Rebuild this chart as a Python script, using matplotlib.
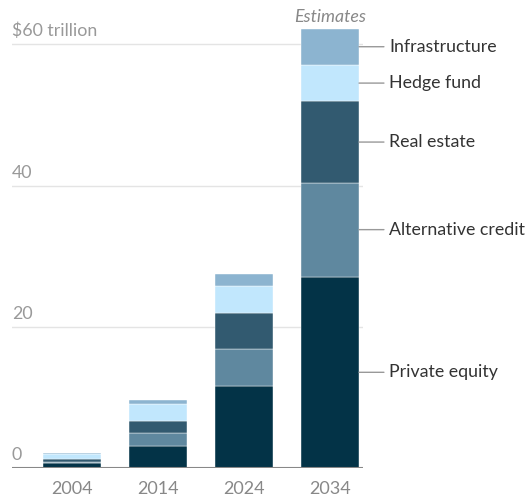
import matplotlib
matplotlib.use("Agg")
import matplotlib.pyplot as plt
import numpy as np

years = ["2004", "2014", "2024", "2034"]
series_names = ["Private equity", "Alternative credit", "Real estate", "Hedge fund", "Infrastructure"]
private_equity = [0.65, 3.15, 11.6, 27.1]
alternative_credit = [0.15, 1.75, 5.2, 13.3]
real_estate = [0.45, 1.8, 5.1, 11.5]
hedge_fund = [0.8, 2.35, 3.8, 5.2]
infrastructure = [0.05, 0.55, 1.8, 5.1]
colors = ["#033347", "#5f889f", "#325a70", "#c1e7fd", "#8cb4d0"]
y_ticks = [0, 20, 40, 60]
y_tick_labels = ["0", "20", "40", "$60 trillion"]

plt.rcParams["font.family"] = ["Lato", "DejaVu Sans"]

W, H = 527, 498
fig = plt.figure(figsize=(W / 100, H / 100), dpi=100)
ax = fig.add_axes([12 / W, (H - 468) / H, 350.7 / W, 452 / H])

x = np.arange(len(years))
width = 0.674
stack = [private_equity, alternative_credit, real_estate, hedge_fund, infrastructure]
bottom = np.zeros(len(years))
mids = []
for vals, c in zip(stack, colors):
    vals = np.array(vals)
    ax.bar(x, vals, width, bottom=bottom, color=c, edgecolor="white", linewidth=0.3, zorder=3)
    mids.append(bottom[-1] + vals[-1] / 2)
    bottom = bottom + vals

ax.set_xlim(-0.698, 3.38)
ax.set_ylim(0, 64)

# gridlines and value labels
for v, lab in zip(y_ticks, y_tick_labels):
    if v > 0:
        ax.axhline(v, color="#e4e4e4", linewidth=1, zorder=1)
    ax.annotate(lab, (-0.698, v), xytext=(0, 3.5), textcoords="offset points",
                ha="left", va="bottom", fontsize=12.8, color="#999999")
ax.axhline(0, color="#888888", linewidth=1.5, zorder=4)

# year labels
for xi, yr in zip(x, years):
    ax.annotate(yr, (xi, 0), xytext=(0, -9), textcoords="offset points",
                ha="center", va="top", fontsize=13, color="#888888")

# series labels with leader lines for the last bar
right_edge = x[-1] + width / 2
for name, m in zip(series_names, mids):
    ax.annotate("", xy=(right_edge, m), xytext=(right_edge + 0.29, m),
                arrowprops=dict(arrowstyle="-", color="#999999", lw=1, shrinkA=0, shrinkB=0),
                annotation_clip=False)
    ax.annotate(name, (right_edge + 0.35, m), ha="left", va="center",
                fontsize=12.8, color="#333333", annotation_clip=False)

ax.annotate("Estimates", (x[-1], bottom[-1]), xytext=(0, 3), textcoords="offset points",
            ha="center", va="bottom", fontsize=12.8, color="#888888", style="italic",
            annotation_clip=False)

for s in ax.spines.values():
    s.set_visible(False)
ax.set_xticks([])
ax.set_yticks([])

fig.savefig("out.png", dpi=100, facecolor="white")
